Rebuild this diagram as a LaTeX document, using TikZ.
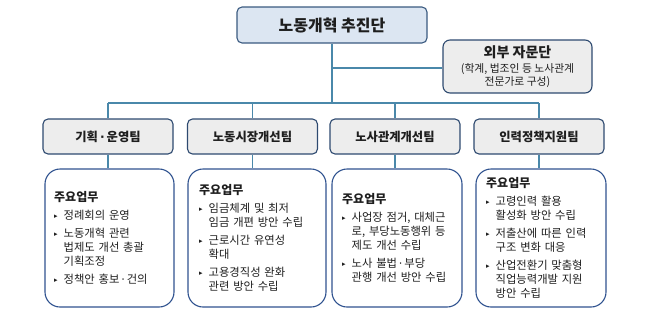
\documentclass[tikz,border=0pt]{standalone}
\usepackage{fontspec}
\setmainfont{Noto Sans CJK KR}
\newfontfamily\symf{DejaVu Sans}
\definecolor{topfill}{HTML}{DCE6F2}
\definecolor{topdraw}{HTML}{3A5A80}
\definecolor{teamfill}{HTML}{EDEDED}
\definecolor{teamdraw}{HTML}{2E4A70}
\definecolor{linec}{HTML}{4A88AA}
\definecolor{detdraw}{HTML}{2F528F}
\definecolor{txt}{HTML}{1E1E1E}
\newcommand{\mdot}{\,{\symf ·}\,}
\newcommand{\itm}[1]{\par\vspace{3.5pt}{\hangindent=9.5pt\hangafter=1\noindent\makebox[9.5pt][l]{\raisebox{1pt}{\symf\fontsize{7}{7}\selectfont ▸}}#1\par}}
\begin{document}
\begin{tikzpicture}[x=1pt,y=-1pt,
  topbox/.style={draw=topdraw,fill=topfill,line width=1.1pt,rounded corners=5pt,minimum width=190pt,minimum height=36pt,inner sep=0pt,text=txt,font=\fontsize{16}{18}\selectfont\bfseries},
  advbox/.style={draw=teamdraw,fill=teamfill,line width=1.1pt,rounded corners=7pt,minimum width=149pt,minimum height=53pt,inner sep=0pt,text=txt,align=center,font=\fontsize{10.8}{12.5}\selectfont},
  teambox/.style={draw=teamdraw,fill=teamfill,line width=1.1pt,rounded corners=5pt,minimum width=130pt,minimum height=35pt,inner sep=0pt,text=txt,font=\fontsize{12.3}{14}\selectfont\bfseries},
  detbox/.style={draw=detdraw,line width=1.1pt,rounded corners=15pt,inner sep=0pt},
  dettext/.style={anchor=west,align=left,inner sep=0pt,text=txt,text width=135pt,font=\fontsize{11.3}{14.2}\selectfont},
  conn/.style={draw=linec,line width=1.2pt}
]
\useasboundingbox (0,0) rectangle (670,317);
% nodes
\node[topbox] (top) at (332,25) {노동개혁 추진단};
\node[advbox] (adv) at (517.5,66.5) {{\fontsize{14}{16}\selectfont\bfseries 외부 자문단}\\[3pt](학계, 법조인 등 노사관계\\전문가로 구성)};
\node[teambox] (t1) at (108,136.5) {기획\mdot 운영팀};
\node[teambox] (t2) at (252.5,136.5) {노동시장개선팀};
\node[teambox] (t3) at (395,136.5) {노사관계개선팀};
\node[teambox] (t4) at (539,136.5) {인력정책지원팀};
% detail boxes
\node[detbox,minimum width=129pt,minimum height=138pt] (d1) at (109.5,238) {};
\node[detbox,minimum width=138pt,minimum height=138pt] (d2) at (257,238) {};
\node[detbox,minimum width=130pt,minimum height=138pt] (d3) at (397,238) {};
\node[detbox,minimum width=130pt,minimum height=138pt] (d4) at (541,238) {};
\node[dettext] (x1) at (54,238) {{\fontsize{12}{14}\selectfont\bfseries 주요업무}\itm{정례회의 운영}\itm{노동개혁 관련\newline 법제도 개선 총괄\newline 기획조정}\itm{정책안 홍보\mdot 건의}};
\node[dettext] (x2) at (199,238) {{\fontsize{12}{14}\selectfont\bfseries 주요업무}\itm{임금체계 및 최저\newline 임금 개편 방안 수립}\itm{근로시간 유연성\newline 확대}\itm{고용경직성 완화\newline 관련 방안 수립}};
\node[dettext] (x3) at (342,238) {{\fontsize{12}{14}\selectfont\bfseries 주요업무}\itm{사업장 점거, 대체근\newline 로, 부당노동행위 등\newline 제도 개선 수립}\itm{노사 불법\mdot 부당\newline 관행 개선 방안 수립}};
\node[dettext] (x4) at (486,238) {{\fontsize{12}{14}\selectfont\bfseries 주요업무}\itm{고령인력 활용\newline 활성화 방안 수립}\itm{저출산에 따른 인력\newline 구조 변화 대응}\itm{산업전환기 맞춤형\newline 직업능력개발 지원\newline 방안 수립}};
% connectors
\coordinate (bus) at (332,103);
\coordinate (advj) at (332,68);
\draw[conn] (top.south) -- (bus);
\draw[conn] (advj) -- (advj -| adv.west);
\draw[conn] (t1.north |- bus) -- (t4.north |- bus);
\foreach \t/\d in {t1/d1,t2/d2,t3/d3,t4/d4}{
  \draw[conn] (\t.north |- bus) -- (\t.north);
  \draw[conn] (\t.south) -- (\t.south |- \d.north);
}
\end{tikzpicture}
\end{document}
